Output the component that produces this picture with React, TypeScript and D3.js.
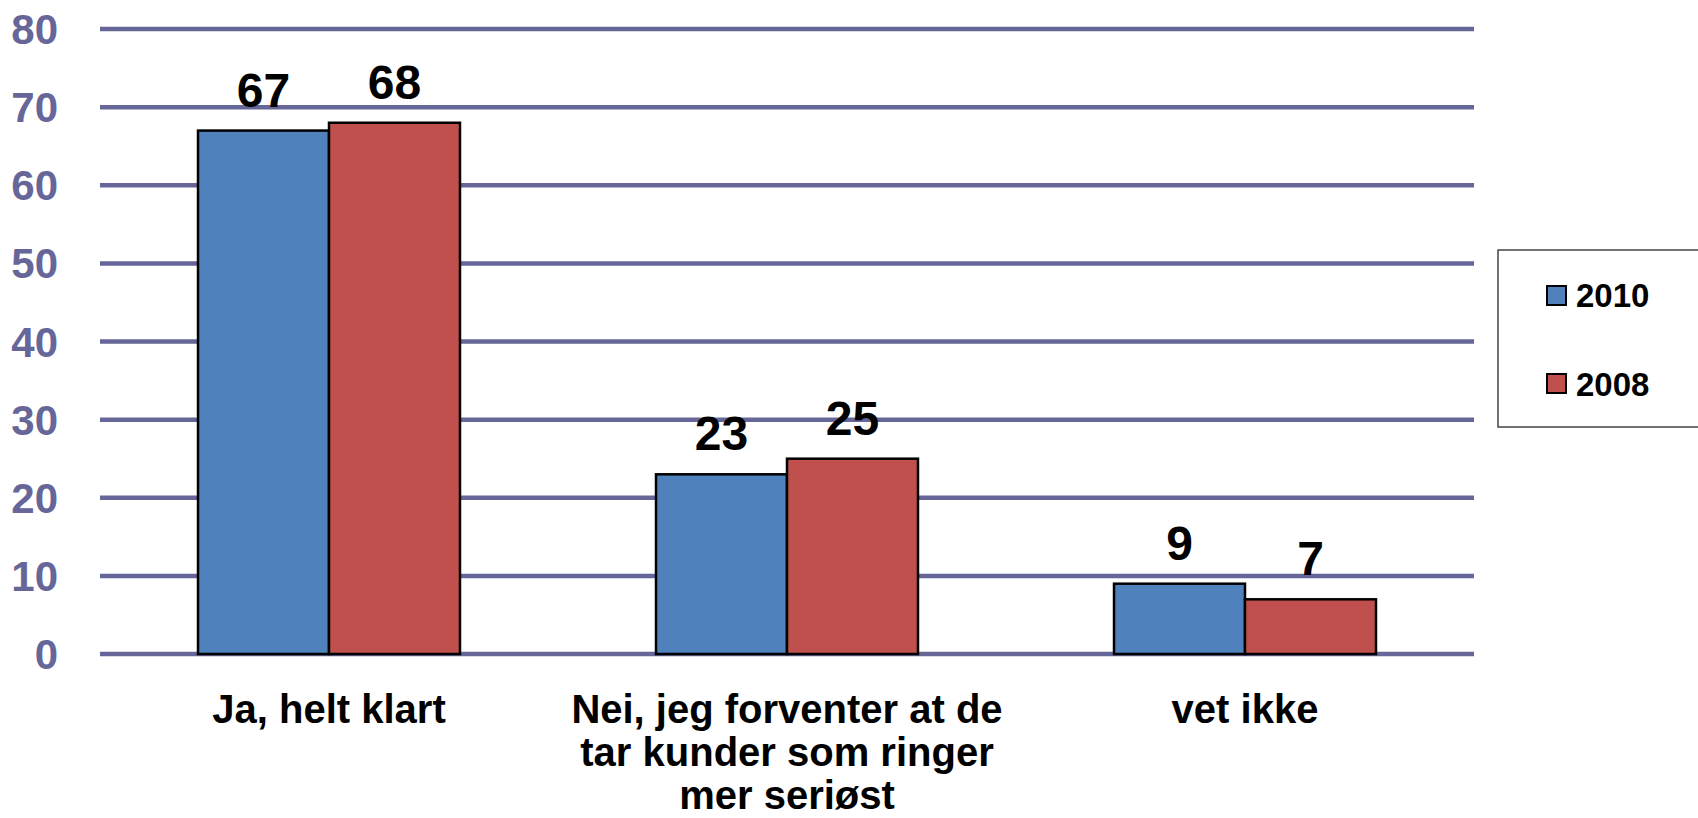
import React from "react";
import * as d3 from "d3";

const categories: string[][] = [
  ["Ja, helt klart"],
  ["Nei, jeg forventer at de", "tar kunder som ringer", "mer seriøst"],
  ["vet ikke"],
];
const categoryKeys = ["ja", "nei", "vet"];
const seriesNames = ["2010", "2008"];
const values2010 = [67, 23, 9];
const values2008 = [68, 25, 7];
const seriesColors = ["#4F81BD", "#C0504D"];
const yTicks = [0, 10, 20, 30, 40, 50, 60, 70, 80];

const W = 1698;
const H = 818;
const FONT = "'Liberation Sans', Arial, Helvetica, sans-serif";
const GRID = "#666699";

export default function App() {
  const y = d3.scaleLinear().domain([0, 80]).range([654, 29]);
  const x0 = d3
    .scaleBand<string>()
    .domain(categoryKeys)
    .range([100, 1474])
    .paddingInner(0.428)
    .paddingOuter(0.214);
  const x1 = d3
    .scaleBand<string>()
    .domain(seriesNames)
    .range([0, x0.bandwidth()])
    .padding(0);
  const series = [values2010, values2008];

  return (
    <svg
      width={W}
      height={H}
      style={{ position: "absolute", left: 0, top: 0, display: "block", background: "#fff" }}
      fontFamily={FONT}
    >
      {/* gridlines */}
      {yTicks.map((t) => (
        <line
          key={"g" + t}
          x1={100}
          x2={1474}
          y1={y(t)}
          y2={y(t)}
          stroke={GRID}
          strokeWidth={4.5}
        />
      ))}
      {/* y tick labels */}
      {yTicks.map((t) => (
        <text
          key={"t" + t}
          x={58}
          y={y(t)}
          dy="0.36em"
          textAnchor="end"
          fontSize={42}
          fontWeight="bold"
          fill={GRID}
        >
          {t}
        </text>
      ))}
      {/* bars */}
      {categoryKeys.map((c, ci) =>
        seriesNames.map((s, si) => {
          const v = series[si][ci];
          const bx = (x0(c) as number) + (x1(s) as number);
          return (
            <rect
              key={c + s}
              x={bx}
              y={y(v)}
              width={x1.bandwidth()}
              height={y(0) - y(v)}
              fill={seriesColors[si]}
              stroke="#000"
              strokeWidth={2.5}
            />
          );
        })
      )}
      {/* data labels */}
      {categoryKeys.map((c, ci) =>
        seriesNames.map((s, si) => {
          const v = series[si][ci];
          const cx = (x0(c) as number) + (x1(s) as number) + x1.bandwidth() / 2;
          return (
            <text
              key={"l" + c + s}
              x={cx}
              y={y(v) - 24}
              textAnchor="middle"
              fontSize={48}
              fontWeight="bold"
              fill="#000"
            >
              {v}
            </text>
          );
        })
      )}
      {/* category labels */}
      {categoryKeys.map((c, ci) => (
        <text
          key={"c" + c}
          x={(x0(c) as number) + x0.bandwidth() / 2}
          y={723}
          textAnchor="middle"
          fontSize={40}
          fontWeight="bold"
          fill="#000"
        >
          {categories[ci].map((line, li) => (
            <tspan key={li} x={(x0(c) as number) + x0.bandwidth() / 2} dy={li === 0 ? 0 : 43}>
              {line}
            </tspan>
          ))}
        </text>
      ))}
      {/* legend */}
      <rect x={1498} y={250} width={220} height={177} fill="#fff" stroke="#444" strokeWidth={1.5} />
      {seriesNames.map((s, si) => (
        <g key={"leg" + s}>
          <rect
            x={1547}
            y={286 + si * 88}
            width={19}
            height={19}
            fill={seriesColors[si]}
            stroke="#000"
            strokeWidth={2}
          />
          <text x={1576} y={307 + si * 89} fontSize={33} fontWeight="bold" fill="#000">
            {s}
          </text>
        </g>
      ))}
    </svg>
  );
}
